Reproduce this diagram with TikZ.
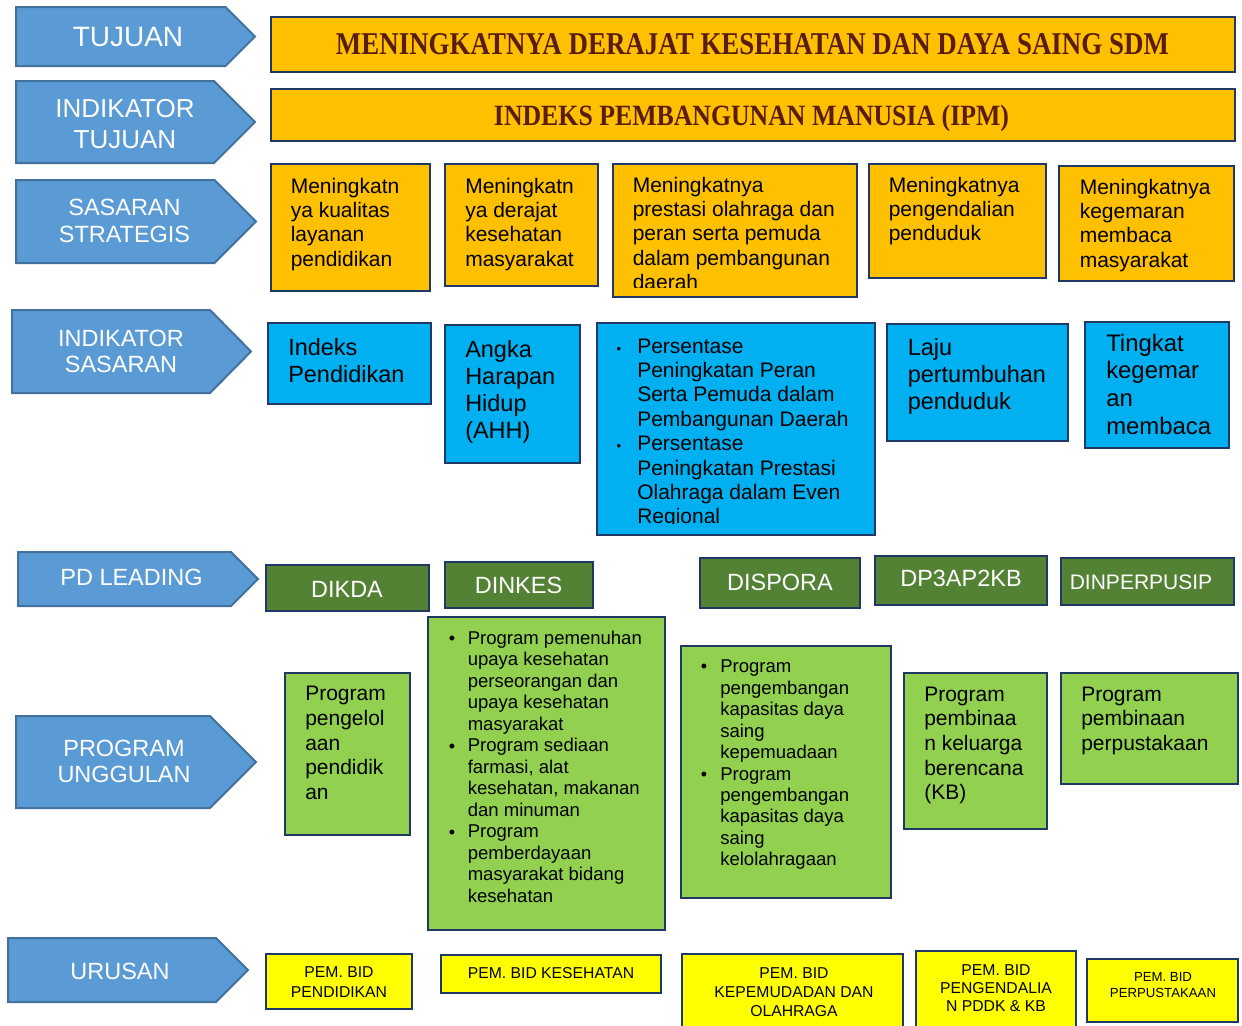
\documentclass[tikz,border=0pt]{standalone}
\usepackage{fontspec}
\setmainfont{Liberation Sans}
\newfontfamily\titlefont{Liberation Serif}
\usepackage{graphicx}
\usetikzlibrary{fit}
\newlength\px \setlength\px{0.75pt}
\definecolor{arrowfill}{HTML}{5B9BD5}
\definecolor{arrowline}{HTML}{41719C}
\definecolor{navy}{HTML}{1F3864}
\definecolor{orangeb}{HTML}{FFC000}
\definecolor{cyanb}{HTML}{00B0F0}
\definecolor{dgreen}{HTML}{548235}
\definecolor{lgreen}{HTML}{92D050}
\definecolor{yel}{HTML}{FFFF00}
\definecolor{titlecol}{HTML}{5A1C0C}
\newcommand\lft[1]{\begin{tabular}[t]{@{}l@{}}#1\end{tabular}}
\newcommand\ctr[1]{\begin{tabular}[t]{@{}c@{}}#1\end{tabular}}
\newcommand\fsA{\fontsize{15.75}{18.3}\selectfont}
\newcommand\fsB{\fontsize{17.6}{20.4}\selectfont}
\newcommand\fsC{\fontsize{13.9}{16.1}\selectfont}
\newcommand\fsP{\fontsize{15.75}{18.5}\selectfont}
\begin{document}
\begin{tikzpicture}[x=0.75pt,y=-0.75pt,
  box/.style={draw=navy, line width=1.5pt, inner sep=0pt},
  ob/.style={box, fill=orangeb},
  cb/.style={box, fill=cyanb},
  gb/.style={box, fill=dgreen},
  lb/.style={box, fill=lgreen},
  yb/.style={box, fill=yel},
  chev/.style={draw=arrowline, fill=arrowfill, line width=1.5pt, line join=miter},
  chevtext/.style={text=white, inner sep=0pt, anchor=base},
  txt/.style={inner sep=0pt, anchor=base west, text=black},
  ctxt/.style={inner sep=0pt, anchor=base, text=black},
  wtxt/.style={inner sep=0pt, anchor=base, text=white},
  bulc/.style={inner sep=0pt, anchor=base, font=\fontsize{9.75}{12}\selectfont},
  bulg/.style={inner sep=0pt, anchor=base, font=\fontsize{13.5}{16}\selectfont}]
\useasboundingbox (0,0) rectangle (1242,1025);
\clip (0,0) rectangle (1242,1025);
\fill[white] (0,0) rectangle (1242,1025);

% ---------- left chevrons ----------
\draw[chev] (16,7) -- (225.5,7) -- (255,36.5) -- (225.5,66) -- (16,66) -- cycle;
\node[chevtext, font=\fontsize{21}{24}\selectfont] (c1) at (128,46.7) {TUJUAN};

\draw[chev] (16,81) -- (214,81) -- (255,122) -- (214,163) -- (16,163) -- cycle;
\node[chevtext, font=\fontsize{19.5}{23.25}\selectfont] (c2) at (125,117) {\ctr{INDIKATOR\\TUJUAN}};

\draw[chev] (16,180) -- (214.5,180) -- (256,221.5) -- (214.5,263) -- (16,263) -- cycle;
\node[chevtext, font=\fontsize{17.6}{20.25}\selectfont] (c3) at (124.5,215.7) {\ctr{SASARAN\\STRATEGIS}};

\draw[chev] (12,310) -- (210,310) -- (251,351.5) -- (210,393) -- (12,393) -- cycle;
\node[chevtext, font=\fontsize{17.6}{19.5}\selectfont] (c4) at (121,346) {\ctr{INDIKATOR\\SASARAN}};

\draw[chev] (18,552) -- (231,552) -- (258,579) -- (231,606) -- (18,606) -- cycle;
\node[chevtext, font=\fontsize{17.6}{20}\selectfont] (c5) at (131.5,585.7) {PD LEADING};

\draw[chev] (16,716) -- (210,716) -- (256,762) -- (210,808) -- (16,808) -- cycle;
\node[chevtext, font=\fontsize{17.6}{20}\selectfont] (c6) at (124,756) {\ctr{PROGRAM\\UNGGULAN}};

\draw[chev] (8,938) -- (216,938) -- (248,970) -- (216,1002) -- (8,1002) -- cycle;
\node[chevtext, font=\fontsize{17.6}{20}\selectfont] (c7) at (120,979) {URUSAN};

% ---------- top boxes ----------
\node[ob, fit={(271,17) (1235,72)}] (top1) {};
\node[inner sep=0pt, anchor=base, text=titlecol] (top1t) at (752.5,54.3)
  {\resizebox{833\px}{21\px}{\titlefont\bfseries MENINGKATNYA DERAJAT KESEHATAN DAN DAYA SAING SDM}};
\node[ob, fit={(271,89) (1235,141)}] (top2) {};
\node[inner sep=0pt, anchor=base, text=titlecol] (top2t) at (751.5,125)
  {\resizebox{515\px}{20.4\px}{\titlefont\bfseries INDEKS PEMBANGUNAN MANUSIA (IPM)}};

% ---------- sasaran strategis ----------
\node[ob, fit={(271,164) (430,291)}] (ss1) {};
\node[ob, fit={(445,164) (598,286)}] (ss2) {};
\node[ob, fit={(613,164) (857,297)}] (ss3) {};
\node[ob, fit={(869,164) (1046,278)}] (ss4) {};
\node[ob, fit={(1059,166) (1234,281)}] (ss5) {};
\node[txt, font=\fsA] (ss1t) at (290.5,193) {\lft{Meningkatn\\ya kualitas\\layanan\\pendidikan}};
\node[txt, font=\fsA] (ss2t) at (465,193) {\lft{Meningkatn\\ya derajat\\kesehatan\\masyarakat}};
\begin{scope}
\clip (613,164) rectangle (857,287);
\node[txt, font=\fsA] (ss3t) at (632.5,192) {\lft{Meningkatnya\\prestasi olahraga dan\\peran serta pemuda\\dalam pembangunan\\daerah}};
\end{scope}
\node[txt, font=\fsA] (ss4t) at (888.5,192) {\lft{Meningkatnya\\pengendalian\\penduduk}};
\node[txt, font=\fsA] (ss5t) at (1079.5,194) {\lft{Meningkatnya\\kegemaran\\membaca\\masyarakat}};

% ---------- indikator sasaran ----------
\node[cb, fit={(268,323) (431,404)}] (is1) {};
\node[cb, fit={(445,325) (580,463)}] (is2) {};
\node[cb, fit={(597,323) (875,535)}] (is3) {};
\node[cb, fit={(887,324) (1068,441)}] (is4) {};
\node[cb, fit={(1085,322) (1229,448)}] (is5) {};
\node[txt, font=\fsB] (is1t) at (288,355) {\lft{Indeks\\Pendidikan}};
\node[txt, font=\fsB] (is2t) at (465,357) {\lft{Angka\\Harapan\\Hidup\\(AHH)}};
\begin{scope}
\clip (597,323) rectangle (875,523.5);
\node[txt, font=\fsA] (is3t) at (637,353) {\lft{Persentase\\Peningkatan Peran\\Serta Pemuda dalam\\Pembangunan Daerah\\Persentase\\Peningkatan Prestasi\\Olahraga dalam Even\\Regional}};
\end{scope}
\node[bulc] (is3b1) at (619,353) {•};
\node[bulc] (is3b2) at (619,450.6) {•};
\node[txt, font=\fsB] (is4t) at (907.5,355) {\lft{Laju\\pertumbuhan\\penduduk}};
\node[txt, font=\fontsize{17.9}{20.8}\selectfont] (is5t) at (1106,351) {\lft{Tingkat\\kegemar\\an\\membaca}};

% ---------- PD leading ----------
\node[gb, fit={(266,565) (429,611)}] (pd1) {};
\node[gb, fit={(445,562) (593,608)}] (pd2) {};
\node[gb, fit={(700,558) (860,608)}] (pd3) {};
\node[gb, fit={(875,556) (1047,605)}] (pd4) {};
\node[gb, fit={(1061,558) (1234,605)}] (pd5) {};
\node[wtxt, font=\fontsize{17.6}{20}\selectfont] (pd1t) at (347,597) {DIKDA};
\node[wtxt, font=\fontsize{17.6}{20}\selectfont] (pd2t) at (518.5,593) {DINKES};
\node[wtxt, font=\fontsize{17.6}{20}\selectfont] (pd3t) at (780,590) {DISPORA};
\node[wtxt, font=\fontsize{17.6}{20}\selectfont] (pd4t) at (961,586) {DP3AP2KB};
\node[wtxt, font=\fontsize{15.75}{18}\selectfont] (pd5t) at (1141,589) {DINPERPUSIP};

% ---------- program unggulan ----------
\node[lb, fit={(285,673) (410,835)}] (pu1) {};
\node[lb, fit={(428,617) (665,930)}] (pu2) {};
\node[lb, fit={(681,646) (891,898)}] (pu3) {};
\node[lb, fit={(904,673) (1047,829)}] (pu4) {};
\node[lb, fit={(1061,673) (1238,784)}] (pu5) {};
\node[txt, font=\fsP] (pu1t) at (305,700.7) {\lft{Program\\pengelol\\aan\\pendidik\\an}};
\node[txt, font=\fsC] (pu2t) at (467.5,644.5) {\lft{Program pemenuhan\\upaya kesehatan\\perseorangan dan\\upaya kesehatan\\masyarakat\\Program sediaan\\farmasi, alat\\kesehatan, makanan\\dan minuman\\Program\\pemberdayaan\\masyarakat bidang\\kesehatan}};
\node[bulg] (pu2b1) at (452,644.5) {•};
\node[bulg] (pu2b2) at (452,752) {•};
\node[bulg] (pu2b3) at (452,838) {•};
\node[txt, font=\fsC] (pu3t) at (720,672.7) {\lft{Program\\pengembangan\\kapasitas daya\\saing\\kepemuadaan\\Program\\pengembangan\\kapasitas daya\\saing\\kelolahragaan}};
\node[bulg] (pu3b1) at (704,672.7) {•};
\node[bulg] (pu3b2) at (704,780.2) {•};
\node[txt, font=\fsP] (pu4t) at (924,701) {\lft{Program\\pembinaa\\n keluarga\\berencana\\(KB)}};
\node[txt, font=\fsP] (pu5t) at (1081,701) {\lft{Program\\pembinaan\\perpustakaan}};

% ---------- urusan ----------
\node[yb, fit={(266,954) (412,1009)}] (ur1) {};
\node[yb, fit={(441,955) (661,993)}] (ur2) {};
\node[yb, fit={(682,954) (903,1035)}] (ur3) {};
\node[yb, fit={(916,951) (1076,1035)}] (ur4) {};
\node[yb, fit={(1087,959) (1238,1022)}] (ur5) {};
\node[ctxt, font=\fontsize{11.8}{15}\selectfont] (ur1t) at (339,977.7) {\ctr{PEM. BID\\PENDIDIKAN}};
\node[ctxt, font=\fontsize{11.8}{15}\selectfont] (ur2t) at (551,978.3) {PEM. BID KESEHATAN};
\node[ctxt, font=\fontsize{11.8}{14.25}\selectfont] (ur3t) at (794,978) {\ctr{PEM. BID\\KEPEMUDADAN DAN\\OLAHRAGA}};
\node[ctxt, font=\fontsize{11.8}{13.75}\selectfont] (ur4t) at (996,975) {\ctr{PEM. BID\\PENGENDALIA\\N PDDK \& KB}};
\node[ctxt, font=\fontsize{9.9}{12}\selectfont] (ur5t) at (1163,981.7) {\ctr{PEM. BID\\PERPUSTAKAAN}};
\end{tikzpicture}
\end{document}
